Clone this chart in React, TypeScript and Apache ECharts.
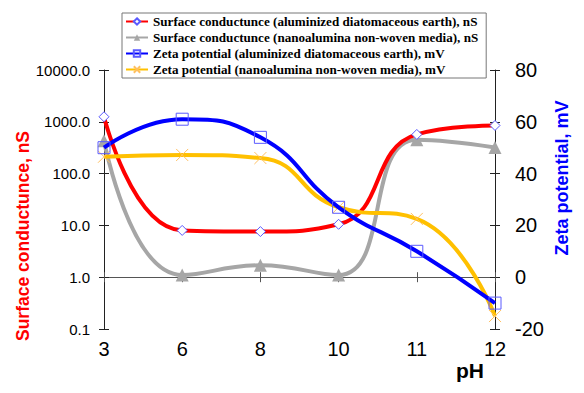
import React, { useEffect, useRef } from "react";
import * as echarts from "echarts";

const pH = ["3", "6", "8", "10", "11", "12"];
const scAluminized = [1250, 8, 7.6, 10.5, 570, 850];
const scNanoalumina = [430, 1.1, 1.7, 1.1, 450, 320];
const zetaAluminized = [50, 61, 54, 27, 10, -10];
const zetaNanoalumina = [46.5, 47.2, 46, 27, 22.5, -15];

const names = [
  "Surface conductunce (aluminized diatomaceous earth), nS",
  "Surface conductunce (nanoalumina non-woven media), nS",
  "Zeta potential (aluminized diatomaceous earth), mV",
  "Zeta potential (nanoalumina non-woven media), mV",
];

const FONT = "Liberation Sans, Arial, sans-serif";

export default function App() {
  const ref = useRef<HTMLDivElement>(null);
  useEffect(() => {
    if (!ref.current) return;
    const chart = echarts.init(ref.current, undefined, { renderer: "svg" });
    const grid = { left: 104, right: 89, top: 70, bottom: 64 };
    chart.setOption({
      animation: false,
      backgroundColor: "#fff",
      grid,
      legend: {
        orient: "vertical",
        left: 122,
        top: 13,
        backgroundColor: "#fff",
        borderColor: "#777",
        borderWidth: 1,
        borderRadius: 0,
        padding: [2, 8, 2, 3],
        itemGap: 3,
        itemWidth: 22,
        itemHeight: 8,
        z: 10,
        data: names,
        textStyle: {
          fontFamily: "Liberation Serif, Times New Roman, serif",
          fontWeight: "bold",
          fontSize: 13.1,
          color: "#000",
        },
      },
      xAxis: [
        {
          type: "category",
          data: pH,
          boundaryGap: false,
          axisLine: { lineStyle: { color: "#555", width: 1 } },
          axisTick: { show: true, length: 5, lineStyle: { color: "#555" } },
          axisLabel: { fontFamily: FONT, fontSize: 20, color: "#000", margin: 10 },
          splitLine: { show: false },
        },
        {
          type: "category",
          data: pH,
          boundaryGap: false,
          position: "bottom",
          axisLine: { show: false },
          axisTick: { show: true, inside: true, length: 5, lineStyle: { color: "#555" } },
          axisLabel: { show: false },
          splitLine: { show: false },
        },
      ],
      yAxis: [
        {
          type: "log",
          logBase: 10,
          min: 0.1,
          max: 10000,
          position: "left",
          axisLine: { show: true, lineStyle: { color: "#222" } },
          axisTick: { show: true, length: 5, lineStyle: { color: "#222" } },
          axisLabel: {
            fontFamily: FONT,
            fontSize: 15,
            color: "#000",
            margin: 14,
            formatter: (v: number) => Number(v).toFixed(1),
          },
          splitLine: { show: false },
        },
        {
          type: "value",
          min: -20,
          max: 80,
          interval: 20,
          position: "right",
          axisLine: { show: true, lineStyle: { color: "#222" } },
          axisTick: { show: true, length: 5, lineStyle: { color: "#222" } },
          axisLabel: { fontFamily: FONT, fontSize: 20, color: "#000", margin: 20 },
          splitLine: { show: false },
        },
        {
          type: "log",
          logBase: 10,
          min: 0.1,
          max: 10000,
          position: "left",
          axisLine: { show: false },
          axisTick: { show: true, inside: true, length: 5, lineStyle: { color: "#222" } },
          axisLabel: { show: false },
          splitLine: { show: false },
        },
        {
          type: "value",
          min: -20,
          max: 80,
          interval: 20,
          position: "right",
          axisLine: { show: false },
          axisTick: { show: true, inside: true, length: 5, lineStyle: { color: "#222" } },
          axisLabel: { show: false },
          splitLine: { show: false },
        },
      ],
      graphic: [
        {
          type: "text",
          left: 456,
          top: 360,
          style: { text: "pH", font: "bold 21px Liberation Sans, Arial, sans-serif", fill: "#000" },
        },
        {
          type: "text",
          x: 23,
          y: 236,
          rotation: Math.PI / 2,
          style: {
            text: "Surface conductunce, nS",
            font: "bold 17.5px Liberation Sans, Arial, sans-serif",
            fill: "#ff0000",
            align: "center",
            verticalAlign: "middle",
          },
        },
        {
          type: "text",
          x: 562,
          y: 178,
          rotation: Math.PI / 2,
          style: {
            text: "Zeta potential, mV",
            font: "bold 18px Liberation Sans, Arial, sans-serif",
            fill: "#0000ff",
            align: "center",
            verticalAlign: "middle",
          },
        },
      ],
      series: [
        {
          name: names[0],
          type: "line",
          yAxisIndex: 0,
          data: scAluminized,
          smooth: 0.5,
          symbol: "diamond",
          symbolSize: 10,
          lineStyle: { color: "#ff0000", width: 4 },
          itemStyle: { color: "#fff", borderColor: "#5a5aff", borderWidth: 1 },
          z: 4,
        },
        {
          name: names[1],
          type: "line",
          yAxisIndex: 0,
          data: scNanoalumina,
          smooth: 0.5,
          symbol: "triangle",
          symbolSize: 13,
          lineStyle: { color: "#a6a6a6", width: 4 },
          itemStyle: { color: "#a6a6a6", borderColor: "#a6a6a6", borderWidth: 0 },
          z: 3,
        },
        {
          name: names[2],
          type: "line",
          yAxisIndex: 1,
          data: zetaAluminized,
          smooth: 0.5,
          symbol: "rect",
          symbolSize: 12,
          lineStyle: { color: "#0000ff", width: 4 },
          itemStyle: { color: "rgba(255,255,255,0)", borderColor: "#5a5aff", borderWidth: 1 },
          z: 5,
        },
        {
          name: names[3],
          type: "line",
          yAxisIndex: 1,
          data: zetaNanoalumina,
          smooth: 0.5,
          symbol: "path://M0,0L10,10M10,0L0,10",
          symbolSize: 12,
          lineStyle: { color: "#ffc000", width: 4 },
          itemStyle: { color: "none", borderColor: "#ffc060", borderWidth: 1 },
          z: 4,
        },
      ],
    });
    return () => chart.dispose();
  }, []);
  return (
    <div
      ref={ref}
      style={{ position: "fixed", left: 0, top: 0, width: 584, height: 393 }}
    />
  );
}
